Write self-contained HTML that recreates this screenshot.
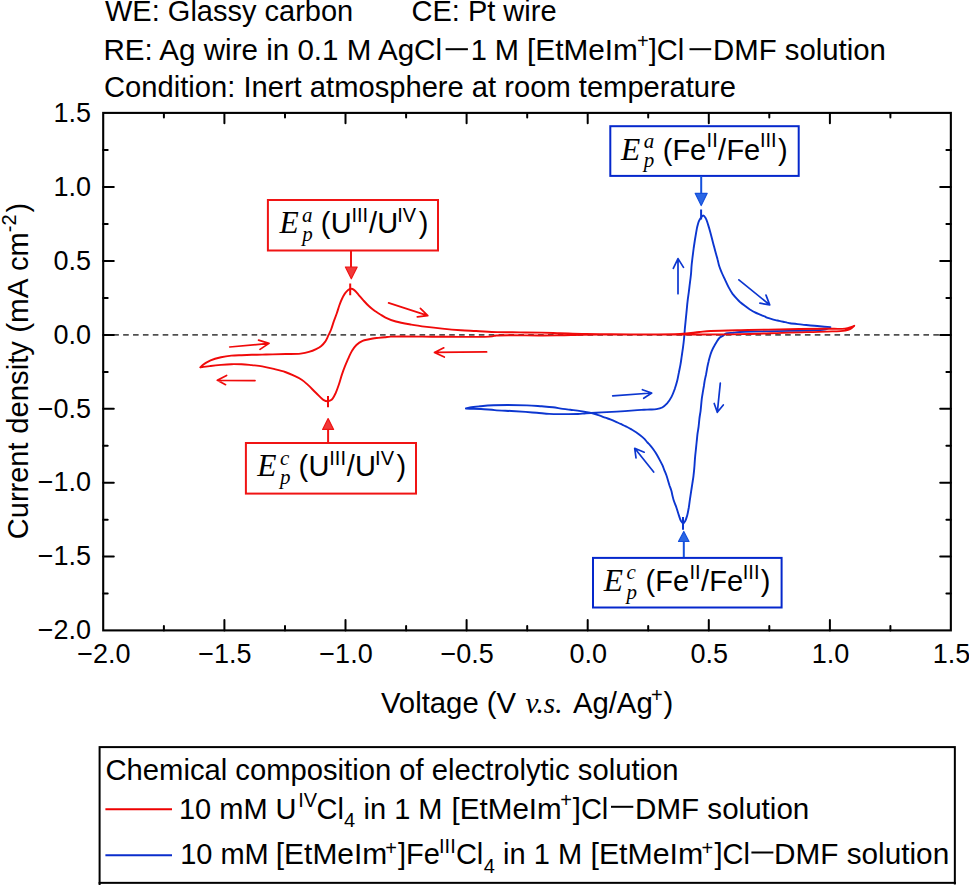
<!DOCTYPE html>
<html><head><meta charset="utf-8"><style>
html,body{margin:0;padding:0;background:#fff;width:969px;height:885px;overflow:hidden}
svg{display:block}
text{font-family:"Liberation Sans",sans-serif;fill:#000}
.sr{font-family:"Liberation Serif",serif;font-style:italic}
</style></head><body>
<svg width="969" height="885" viewBox="0 0 969 885">
<g font-size="29">
<text x="105" y="21">WE: Glassy carbon</text>
<text x="411.5" y="21">CE: Pt wire</text>
<text x="103.5" y="60" textLength="338.5" lengthAdjust="spacingAndGlyphs">RE: Ag wire in 0.1 M AgCl</text>
<text x="104" y="96.5" textLength="632" lengthAdjust="spacingAndGlyphs">Condition: Inert atmosphere at room temperature</text>
</g>
<rect x="445.6" y="48.2" width="22.3" height="2" fill="#000"/>
<rect x="689.5" y="48.2" width="21.7" height="2" fill="#000"/>
<line x1="105" y1="334.85" x2="950" y2="334.85" stroke="#505050" stroke-width="1.8" stroke-dasharray="5.6,4.28" stroke-dashoffset="1.6"/>
<rect x="103.2" y="112.9" width="847.65" height="517.5" fill="none" stroke="#000" stroke-width="2.1"/>
<path d="M163.9 113V117.5M163.9 630.4V625.9M224.4 113V123.3M224.4 630.4V620.1M285 113V117.5M285 630.4V625.9M345.5 113V123.3M345.5 630.4V620.1M406.1 113V117.5M406.1 630.4V625.9M466.6 113V123.3M466.6 630.4V620.1M527.2 113V117.5M527.2 630.4V625.9M587.7 113V123.3M587.7 630.4V620.1M648.2 113V117.5M648.2 630.4V625.9M708.8 113V123.3M708.8 630.4V620.1M769.3 113V117.5M769.3 630.4V625.9M829.9 113V123.3M829.9 630.4V620.1M890.4 113V117.5M890.4 630.4V625.9M103.2 150.1H107.7M950.85 150.1H946.4M103.2 187.1H113.8M950.85 187.1H940.2M103.2 224H107.7M950.85 224H946.4M103.2 261H113.8M950.85 261H940.2M103.2 297.9H107.7M950.85 297.9H946.4M103.2 334.9H113.8M950.85 334.9H940.2M103.2 371.9H107.7M950.85 371.9H946.4M103.2 408.8H113.8M950.85 408.8H940.2M103.2 445.8H107.7M950.85 445.8H946.4M103.2 482.7H113.8M950.85 482.7H940.2M103.2 519.7H107.7M950.85 519.7H946.4M103.2 556.6H113.8M950.85 556.6H940.2M103.2 593.6H107.7M950.85 593.6H946.4" stroke="#000" stroke-width="2" fill="none" stroke-linecap="round"/>
<g font-size="27" text-anchor="end"><text x="91" y="121.9">1.5</text><text x="91" y="195.8">1.0</text><text x="91" y="269.7">0.5</text><text x="91" y="343.6">0.0</text><text x="91" y="417.5">−0.5</text><text x="91" y="491.4">−1.0</text><text x="91" y="565.3">−1.5</text><text x="91" y="639.2">−2.0</text></g>
<g font-size="27" text-anchor="middle"><text x="103.9" y="663">−2.0</text><text x="224.9" y="663">−1.5</text><text x="346" y="663">−1.0</text><text x="467.1" y="663">−0.5</text><text x="588.2" y="663">0.0</text><text x="709.3" y="663">0.5</text><text x="830.4" y="663">1.0</text><text x="951.5" y="663">1.5</text></g>
<rect x="99.6" y="747.1" width="855.25" height="135.75" fill="none" stroke="#000" stroke-width="2"/>
<path d="M99.6 882V885M954.85 882V884.5" stroke="#000" stroke-width="2"/>
<text font-size="29" x="105.5" y="780" textLength="573" lengthAdjust="spacingAndGlyphs">Chemical composition of electrolytic solution</text>
<line x1="105.4" y1="809.3" x2="172" y2="809.3" stroke="#ee0000" stroke-width="2"/>
<line x1="105.4" y1="855.2" x2="172" y2="855.2" stroke="#0a2dcc" stroke-width="2"/>
<rect x="611" y="805.8" width="22.3" height="2" fill="#000"/>
<rect x="751.4" y="851.5" width="22" height="2" fill="#000"/>
<g>
<text x="470.65" y="59.80" font-size="29">1 M</text>
<text x="527.10" y="59.80" font-size="29" textLength="110.8" lengthAdjust="spacingAndGlyphs">[EtMeIm</text>
<text x="637.00" y="48.45" font-size="20">+</text>
<text x="648.75" y="59.80" font-size="29">]Cl</text>
<text x="713.00" y="59.80" font-size="29" textLength="172.9" lengthAdjust="spacingAndGlyphs">DMF solution</text>
<text x="178.95" y="818.50" font-size="29">10 mM U</text>
<text x="298.25" y="806.80" font-size="20">IV</text>
<text x="316.50" y="818.50" font-size="29">Cl</text>
<text x="343.90" y="826.50" font-size="20">4</text>
<text x="363.50" y="818.50" font-size="29">in 1 M</text>
<text x="451.60" y="818.50" font-size="29" textLength="110.1" lengthAdjust="spacingAndGlyphs">[EtMeIm</text>
<text x="560.30" y="807.25" font-size="20">+</text>
<text x="572.85" y="818.50" font-size="29">]Cl</text>
<text x="635.10" y="818.50" font-size="29" textLength="174.2" lengthAdjust="spacingAndGlyphs">DMF solution</text>
<text x="180.15" y="864.20" font-size="29">10 mM</text>
<text x="275.80" y="864.20" font-size="29" textLength="111.5" lengthAdjust="spacingAndGlyphs">[EtMeIm</text>
<text x="385.20" y="854.85" font-size="20">+</text>
<text x="397.95" y="864.20" font-size="29">]Fe</text>
<text x="439.05" y="853.10" font-size="20">III</text>
<text x="455.90" y="864.20" font-size="29">Cl</text>
<text x="483.70" y="872.90" font-size="20">4</text>
<text x="503.10" y="864.20" font-size="29">in 1 M</text>
<text x="590.50" y="864.20" font-size="29" textLength="112.7" lengthAdjust="spacingAndGlyphs">[EtMeIm</text>
<text x="701.50" y="854.85" font-size="20">+</text>
<text x="714.45" y="864.20" font-size="29">]Cl</text>
<text x="774.00" y="864.20" font-size="29" textLength="175.2" lengthAdjust="spacingAndGlyphs">DMF solution</text>
<text x="380.95" y="712.80" font-size="29.3">Voltage (V</text>
<text x="525.60" y="712.80" font-size="29.3" style="font-family:&quot;Liberation Serif&quot;,serif" font-style="italic">v.s.</text>
<text x="572.90" y="712.80" font-size="29.3">Ag/Ag</text>
<text x="651.00" y="702.15" font-size="20">+</text>
<text x="663.60" y="712.80" font-size="29.3">)</text>
</g>
<g transform="translate(27.5,538) rotate(-90)">
<text x="-1.20" y="0.00" font-size="29">Current</text>
<text x="104.25" y="0.00" font-size="29" textLength="92.7" lengthAdjust="spacingAndGlyphs">density</text>
<text x="205.15" y="0.00" font-size="29" textLength="54.5" lengthAdjust="spacingAndGlyphs">(mA</text>
<text x="267.05" y="0.00" font-size="29">cm</text>
<text x="305.80" y="-11.80" font-size="20">-2</text>
<text x="325.55" y="0.00" font-size="29">)</text>
</g>
<g fill="none" stroke-linejoin="round" stroke-linecap="round">
<path d="M465.9 408.5 C465.9 408.5 468.3 408.6 470.0 408.7 C472.8 408.8 477.1 408.8 481.0 409.0 C485.3 409.2 489.9 409.8 494.7 410.1 C500.0 410.5 506.1 410.7 511.4 411.0 C516.3 411.3 521.1 411.6 525.6 411.9 C529.6 412.2 533.0 412.5 536.8 412.8 C540.8 413.1 545.2 413.7 549.2 413.9 C552.9 414.1 555.9 414.1 560.0 414.1 C565.2 414.1 573.2 414.2 578.0 414.0 C581.2 413.9 582.9 413.5 586.0 413.3 C590.3 413.0 596.2 412.7 601.3 412.4 C606.4 412.1 611.5 411.9 616.8 411.6 C622.5 411.3 629.3 410.8 634.3 410.4 C638.0 410.1 641.2 409.9 644.0 409.7 C646.2 409.6 648.0 409.6 650.0 409.5 C652.1 409.4 654.4 409.5 656.5 409.1 C658.5 408.8 660.5 408.4 662.2 407.5 C664.0 406.5 665.6 405.0 667.1 403.4 C668.7 401.6 670.2 399.3 671.5 396.9 C672.8 394.4 673.8 391.5 674.8 388.8 C675.7 386.1 676.5 383.4 677.2 380.7 C677.9 378.0 678.3 375.2 678.9 372.5 C679.4 369.8 680.0 367.1 680.5 364.4 C681.0 361.7 681.3 359.0 681.7 356.3 C682.1 353.6 682.5 350.9 682.9 348.1 C683.3 345.1 683.7 342.2 684.0 339.0 C684.4 335.6 684.6 331.6 684.9 328.2 C685.2 325.1 685.5 322.2 685.8 319.2 C686.1 316.2 686.4 313.2 686.7 310.2 C687.0 307.2 687.2 304.1 687.6 301.1 C687.9 298.1 688.4 295.1 688.8 292.1 C689.2 289.1 689.5 286.1 689.9 283.1 C690.3 280.1 690.7 277.0 691.0 274.0 C691.3 271.1 691.3 268.3 691.6 265.5 C691.8 262.8 692.2 260.3 692.5 257.5 C692.9 254.5 693.3 251.0 693.7 248.0 C694.1 245.2 694.5 242.6 694.9 240.0 C695.3 237.6 695.7 235.2 696.1 232.9 C696.5 230.7 696.8 228.6 697.3 226.6 C697.8 224.7 698.2 222.7 698.9 221.1 C699.5 219.8 700.2 218.6 701.0 217.6 C701.7 216.8 702.5 215.5 703.2 215.5 C704.0 215.5 704.9 216.8 705.6 217.9 C706.6 219.5 707.2 222.1 708.0 224.4 C708.8 226.9 709.6 229.6 710.3 232.2 C711.0 234.7 711.6 237.1 712.2 239.5 C712.8 241.9 713.5 244.4 714.1 246.8 C714.7 249.1 715.3 251.3 715.9 253.5 C716.5 255.6 717.1 257.5 717.6 259.5 C718.2 261.6 718.5 263.9 719.2 266.0 C719.9 268.2 720.8 270.3 721.7 272.5 C722.6 274.7 723.7 276.9 724.8 279.2 C726.0 281.8 727.4 284.9 728.7 287.4 C729.9 289.6 731.0 291.6 732.4 293.6 C733.9 295.6 736.0 297.9 737.4 299.4 C738.4 300.5 739.0 301.1 740.0 302.0 C741.3 303.1 742.9 304.4 744.5 305.6 C746.2 306.9 748.1 308.4 749.9 309.5 C751.5 310.5 752.9 311.4 754.5 312.2 C756.2 313.1 758.3 313.9 760.0 314.6 C761.4 315.2 762.7 315.6 764.0 316.2 C765.3 316.7 766.4 317.4 767.7 317.9 C769.0 318.4 770.5 318.7 771.8 319.1 C773.1 319.5 774.3 319.8 775.5 320.1 C776.7 320.4 777.9 320.6 779.2 320.9 C780.5 321.2 781.9 321.5 783.2 321.8 C784.5 322.1 786.0 322.3 787.2 322.6 C788.2 322.8 788.7 323.0 790.0 323.2 C792.6 323.6 797.8 324.1 802.2 324.6 C807.5 325.1 814.5 325.8 819.6 326.2 C823.6 326.6 830.4 327.1 830.4 327.1 L830.4 327.1 C830.4 327.1 827.9 328.9 826.0 329.4 C822.9 330.3 818.2 330.0 813.4 330.2 C806.8 330.5 798.3 330.7 790.0 330.9 C780.6 331.1 769.0 331.2 760.0 331.4 C752.7 331.6 745.0 331.6 740.0 332.0 C737.1 332.2 735.3 332.5 733.0 332.8 C730.7 333.0 727.7 332.8 726.0 333.5 C724.8 333.9 724.4 334.8 723.4 335.4 C722.3 336.2 720.7 336.7 719.6 337.7 C718.4 338.8 717.5 340.5 716.6 341.9 C715.7 343.3 714.9 344.7 714.1 346.2 C713.2 347.8 712.3 349.6 711.6 351.3 C710.9 353.0 710.4 354.7 709.9 356.4 C709.4 358.1 709.0 359.7 708.6 361.4 C708.1 363.3 707.7 365.3 707.3 367.4 C706.9 369.6 706.5 372.0 706.1 374.2 C705.7 376.2 705.2 378.1 704.8 380.1 C704.4 382.1 704.2 384.0 703.9 386.0 C703.5 388.2 703.1 390.6 702.7 392.8 C702.4 394.8 702.1 396.4 701.8 398.7 C701.4 402.0 701.0 407.2 700.6 410.8 C700.2 413.7 699.7 416.1 699.4 418.8 C699.1 421.4 698.9 424.1 698.6 426.7 C698.3 429.3 697.7 432.0 697.4 434.6 C697.1 437.2 696.9 439.9 696.6 442.5 C696.3 445.1 696.1 447.8 695.8 450.4 C695.5 453.0 695.2 455.5 695.0 458.3 C694.7 461.3 694.6 464.9 694.3 467.9 C694.1 470.7 693.8 473.2 693.5 475.8 C693.2 478.5 692.7 481.1 692.3 483.8 C691.9 486.4 691.5 489.1 691.1 491.7 C690.7 494.3 690.3 497.0 689.9 499.6 C689.5 502.2 689.2 504.9 688.8 507.5 C688.3 510.1 687.9 513.0 687.2 515.4 C686.6 517.4 686.0 519.6 685.2 521.0 C684.6 522.0 684.0 523.4 683.3 523.4 C682.6 523.4 681.7 522.1 681.0 521.0 C680.1 519.6 679.6 517.4 678.9 515.4 C678.1 513.0 677.3 510.1 676.4 507.5 C675.5 505.0 674.3 502.2 673.6 500.0 C673.1 498.4 672.9 497.2 672.5 495.7 C672.1 494.1 671.8 492.3 671.3 490.6 C670.8 488.9 670.1 487.2 669.5 485.5 C669.0 483.8 668.5 482.1 668.0 480.4 C667.5 478.7 667.0 477.0 666.4 475.3 C665.8 473.6 665.1 472.0 664.4 470.3 C663.7 468.6 663.2 466.9 662.4 465.2 C661.6 463.5 660.7 461.8 659.8 460.1 C658.9 458.4 657.9 456.6 657.0 455.0 C656.2 453.6 655.5 452.4 654.5 451.0 C653.3 449.2 651.3 446.6 650.0 445.1 C649.1 444.0 648.4 443.5 647.5 442.5 C646.4 441.3 645.2 439.6 643.9 438.4 C642.7 437.2 641.5 436.3 640.2 435.3 C638.9 434.2 637.6 433.2 636.1 432.2 C634.5 431.1 632.7 430.1 631.0 429.1 C629.3 428.1 627.5 427.2 625.8 426.3 C624.1 425.4 622.3 424.7 620.6 423.9 C618.9 423.1 617.2 422.4 615.5 421.6 C613.8 420.8 612.0 420.0 610.3 419.3 C608.6 418.7 606.9 418.3 605.2 417.7 C603.5 417.1 602.0 416.4 600.0 415.7 C597.2 414.7 593.2 413.5 589.9 412.7 C586.8 412.0 583.8 411.6 580.6 411.1 C577.3 410.6 573.5 410.2 570.3 409.8 C567.6 409.5 565.5 409.3 562.8 408.9 C559.7 408.5 556.3 407.7 552.9 407.3 C549.3 406.8 545.7 406.6 541.7 406.3 C537.1 406.0 532.8 405.6 526.9 405.4 C518.0 405.1 502.1 405.0 493.4 405.3 C487.9 405.5 484.0 405.9 479.8 406.3 C476.3 406.6 472.6 406.9 470.0 407.4 C468.3 407.7 465.9 408.5 465.9 408.5" stroke="#0c36d0" stroke-width="1.9"/>
<path d="M200.3 367.4 C200.3 367.4 202.1 365.6 203.4 364.6 C205.2 363.2 207.9 361.6 210.6 360.4 C213.7 359.0 217.5 358.0 221.0 357.2 C224.4 356.4 227.9 355.9 231.3 355.6 C234.7 355.3 238.2 355.3 241.6 355.2 C245.0 355.1 248.5 354.9 251.9 354.8 C255.3 354.7 258.8 354.7 262.2 354.6 C265.7 354.5 268.9 354.5 272.6 354.4 C276.8 354.3 281.4 354.1 286.0 354.0 C290.8 353.9 296.4 354.1 300.6 353.6 C303.8 353.2 306.3 352.7 308.9 351.9 C311.4 351.2 313.9 350.2 316.1 349.1 C318.0 348.2 319.8 347.3 321.3 346.0 C322.9 344.7 324.2 343.1 325.4 341.4 C326.6 339.6 327.5 337.2 328.5 335.2 C329.4 333.3 330.3 331.6 331.1 329.5 C332.0 327.1 332.8 324.3 333.7 321.6 C334.7 318.9 335.9 316.0 336.8 313.3 C337.7 310.7 338.4 308.0 339.3 305.5 C340.1 303.2 340.9 301.1 341.9 299.0 C342.8 297.0 343.9 295.0 345.0 293.4 C346.0 292.1 347.0 290.9 348.1 290.1 C349.1 289.4 350.2 288.8 351.2 288.8 C352.2 288.8 353.3 289.4 354.3 290.1 C355.7 291.1 357.0 293.0 358.4 294.6 C360.0 296.4 361.8 298.7 363.6 300.6 C365.3 302.5 366.9 304.3 368.8 306.0 C370.7 307.8 372.9 309.6 374.9 311.0 C376.6 312.2 378.3 313.1 380.0 314.2 C381.8 315.3 383.3 316.5 385.5 317.6 C388.3 319.0 392.0 320.4 395.8 321.5 C400.4 322.8 406.1 323.7 411.3 324.6 C416.5 325.5 421.6 326.2 426.8 326.9 C431.9 327.6 436.8 328.1 442.2 328.6 C448.1 329.2 454.9 329.8 460.8 330.2 C466.1 330.6 470.6 330.7 476.1 331.0 C482.6 331.3 490.0 331.9 497.2 332.1 C504.7 332.3 512.5 332.3 520.0 332.4 C527.3 332.5 534.8 332.5 541.7 332.6 C548.1 332.7 553.6 333.0 560.0 333.2 C567.0 333.4 575.0 333.8 582.0 333.9 C588.3 334.0 591.9 334.1 600.0 334.1 C617.2 334.2 662.4 334.8 680.0 333.9 C688.6 333.5 693.7 332.5 699.3 332.0 C703.6 331.6 705.7 331.3 710.6 331.0 C719.5 330.5 735.3 330.3 748.1 330.0 C761.7 329.7 776.5 329.4 790.0 329.2 C802.6 329.0 816.3 328.9 826.4 328.8 C833.6 328.7 840.8 329.1 845.0 328.6 C847.2 328.3 848.4 328.0 850.0 327.5 C851.5 327.0 854.3 325.8 854.3 325.8 L854.3 325.8 C854.3 325.8 851.6 328.4 850.0 329.2 C848.5 330.0 847.2 330.2 845.0 330.6 C840.8 331.3 833.6 331.3 826.4 331.6 C816.3 332.0 803.1 332.2 790.0 332.6 C774.7 333.0 757.6 333.8 740.2 334.1 C721.1 334.5 701.5 334.4 680.0 334.5 C655.2 334.6 617.2 334.5 600.0 334.6 C591.9 334.6 588.3 334.6 582.0 334.7 C575.0 334.8 566.9 335.2 560.0 335.3 C554.0 335.4 550.1 335.5 543.0 335.5 C531.2 335.6 502.9 334.7 496.0 335.5 C494.0 335.7 494.1 336.2 492.2 336.4 C486.7 337.1 470.4 336.9 460.0 336.9 C450.3 336.9 442.2 336.7 431.9 336.7 C419.5 336.6 398.0 336.2 390.6 336.6 C387.9 336.7 387.0 337.0 385.0 337.2 C382.9 337.4 380.4 337.7 378.3 337.9 C376.4 338.1 374.7 338.2 372.9 338.5 C371.2 338.8 369.7 339.1 368.0 339.5 C366.2 339.9 364.4 340.1 362.6 340.9 C360.5 341.8 358.1 343.4 356.4 345.0 C354.7 346.6 353.5 348.5 352.2 350.6 C350.7 353.0 349.3 356.2 348.1 358.9 C347.0 361.4 346.0 363.6 345.0 366.1 C343.9 368.8 342.9 371.6 341.9 374.6 C340.8 377.8 339.9 381.5 338.8 384.7 C337.8 387.6 336.9 390.4 335.7 393.0 C334.5 395.4 333.2 398.5 331.6 399.8 C330.5 400.7 329.3 401.1 328.0 401.2 C326.5 401.3 324.9 400.7 323.3 399.8 C321.0 398.5 318.6 395.4 316.1 393.0 C313.4 390.4 310.5 387.3 307.9 384.9 C305.7 382.9 304.0 381.2 301.7 379.7 C299.2 378.0 296.2 376.7 293.4 375.4 C290.7 374.1 288.3 373.0 285.2 372.0 C281.5 370.8 276.6 369.7 272.6 368.7 C269.0 367.8 265.7 367.0 262.2 366.4 C258.8 365.8 255.3 365.5 251.9 365.1 C248.5 364.8 245.0 364.4 241.6 364.3 C238.2 364.2 234.7 364.1 231.3 364.2 C227.9 364.3 224.4 364.6 221.0 364.9 C217.5 365.2 213.7 365.6 210.6 366.0 C208.0 366.3 205.3 366.6 203.4 366.9 C202.2 367.1 200.3 367.4 200.3 367.4" stroke="#f00a0a" stroke-width="1.9"/>
</g>
<path d="M350.2 283.4V295.3M328 396V407.2" stroke="#f00a0a" stroke-width="2"/>
<path d="M701.1 209.5V219.4M683 517V529.7" stroke="#0c36d0" stroke-width="2"/>
<path d="M229.7 347.0L269.0 343.4M258.6 340.1L269.0 343.4L260.0 349.4" stroke="#f00a0a" stroke-width="1.7" fill="none" stroke-linecap="round" stroke-linejoin="round"/>
<path d="M255.0 380.6L217.3 380.3M226.6 375.4L217.3 380.3L225.6 384.7" stroke="#f00a0a" stroke-width="1.7" fill="none" stroke-linecap="round" stroke-linejoin="round"/>
<path d="M388.6 302.9L427.8 315.6M420.4 308.4L427.8 315.6L417.3 316.8" stroke="#f00a0a" stroke-width="1.7" fill="none" stroke-linecap="round" stroke-linejoin="round"/>
<path d="M486.6 351.9L434.5 352.4M443.8 347.8L434.5 352.4L444.3 357.1" stroke="#f00a0a" stroke-width="1.7" fill="none" stroke-linecap="round" stroke-linejoin="round"/>
<path d="M612.7 395.9L651.7 393.0M642.4 389.7L651.7 393.0L643.7 398.3" stroke="#0c36d0" stroke-width="1.7" fill="none" stroke-linecap="round" stroke-linejoin="round"/>
<path d="M678.0 293.7L678.0 258.6M673.3 268.3L678.0 258.6L683.5 267.4" stroke="#0c36d0" stroke-width="1.7" fill="none" stroke-linecap="round" stroke-linejoin="round"/>
<path d="M738.9 279.9L769.7 304.9M766.0 295.1L769.7 304.9L759.9 303.2" stroke="#0c36d0" stroke-width="1.7" fill="none" stroke-linecap="round" stroke-linejoin="round"/>
<path d="M720.3 383.1L717.3 412.3M714.2 403.5L717.3 412.3L723.3 405.0" stroke="#0c36d0" stroke-width="1.7" fill="none" stroke-linecap="round" stroke-linejoin="round"/>
<path d="M653.7 472.0L634.7 448.3M644.2 452.2L634.7 448.3L636.0 457.8" stroke="#0c36d0" stroke-width="1.7" fill="none" stroke-linecap="round" stroke-linejoin="round"/>
<rect x="267.9" y="200.0" width="170.1" height="50.5" fill="#fff" stroke="#f01414" stroke-width="2"/>
<path d="M351 250.4V268" stroke="#f01414" stroke-width="2"/>
<path d="M345.4 267.0L357.2 267.0L351.3 278.8Z" fill="#f03a3a" stroke="#f01414" stroke-width="1.2" stroke-linejoin="round"/>
<rect x="245.9" y="443.0" width="170.1" height="50.6" fill="#fff" stroke="#f01414" stroke-width="2"/>
<path d="M328.1 442.2V428" stroke="#f01414" stroke-width="2"/>
<path d="M322.6 429.4L333.6 429.4L328.1 418.6Z" fill="#f03a3a" stroke="#f01414" stroke-width="1.2" stroke-linejoin="round"/>
<rect x="610.3" y="126.2" width="188.4" height="49.7" fill="#fff" stroke="#0528cc" stroke-width="2"/>
<path d="M701.2 176V194" stroke="#1450dc" stroke-width="2"/>
<path d="M695.2 193.3L707.2 193.3L701.2 205.5Z" fill="#2a66e4" stroke="#1450dc" stroke-width="1.2" stroke-linejoin="round"/>
<rect x="593.0" y="557.9" width="188.6" height="49.6" fill="#fff" stroke="#0528cc" stroke-width="2"/>
<path d="M683.8 557.2V541" stroke="#1450dc" stroke-width="2"/>
<path d="M678.5 541.5L689.0 541.5L683.8 531.5Z" fill="#2a66e4" stroke="#1450dc" stroke-width="1.2" stroke-linejoin="round"/>
<text x="279.5" y="233.4" font-size="31.5" class="sr">E</text>
<text x="302.1" y="221.6" font-size="21" class="sr">a</text>
<text x="302.3" y="241.4" font-size="21" class="sr">p</text>
<text x="320.7" y="233.4" font-size="29">(</text>
<text x="330.8" y="233.4" font-size="29">U</text>
<text x="351.5" y="221.6" font-size="20">III</text>
<text x="369.0" y="233.4" font-size="29">/</text>
<text x="377.2" y="233.4" font-size="29">U</text>
<text x="397.3" y="221.8" font-size="20">IV</text>
<text x="418.8" y="233.4" font-size="29">)</text>
<text x="257.3" y="476.3" font-size="31.5" class="sr">E</text>
<text x="279.9" y="464.5" font-size="21" class="sr">c</text>
<text x="280.1" y="484.3" font-size="21" class="sr">p</text>
<text x="298.5" y="476.3" font-size="29">(</text>
<text x="308.6" y="476.3" font-size="29">U</text>
<text x="329.3" y="464.5" font-size="20">III</text>
<text x="346.8" y="476.3" font-size="29">/</text>
<text x="355.0" y="476.3" font-size="29">U</text>
<text x="375.1" y="464.7" font-size="20">IV</text>
<text x="396.6" y="476.3" font-size="29">)</text>
<text x="621.0" y="159.7" font-size="31.5" class="sr">E</text>
<text x="643.7" y="147.5" font-size="21" class="sr">a</text>
<text x="643.7" y="167.2" font-size="21" class="sr">p</text>
<text x="662.7" y="159.7" font-size="29">(</text>
<text x="672.4" y="159.7" font-size="29">Fe</text>
<text x="706.6" y="147.1" font-size="20">II</text>
<text x="718.1" y="159.7" font-size="29">/</text>
<text x="726.4" y="159.7" font-size="29">Fe</text>
<text x="760.0" y="147.1" font-size="20">III</text>
<text x="777.9" y="159.7" font-size="29">)</text>
<text x="603.8" y="591.3" font-size="31.5" class="sr">E</text>
<text x="626.5" y="579.1" font-size="21" class="sr">c</text>
<text x="626.5" y="598.8" font-size="21" class="sr">p</text>
<text x="645.5" y="591.3" font-size="29">(</text>
<text x="655.2" y="591.3" font-size="29">Fe</text>
<text x="689.4" y="578.7" font-size="20">II</text>
<text x="700.9" y="591.3" font-size="29">/</text>
<text x="709.2" y="591.3" font-size="29">Fe</text>
<text x="742.8" y="578.7" font-size="20">III</text>
<text x="760.7" y="591.3" font-size="29">)</text>
</svg>
</body></html>
